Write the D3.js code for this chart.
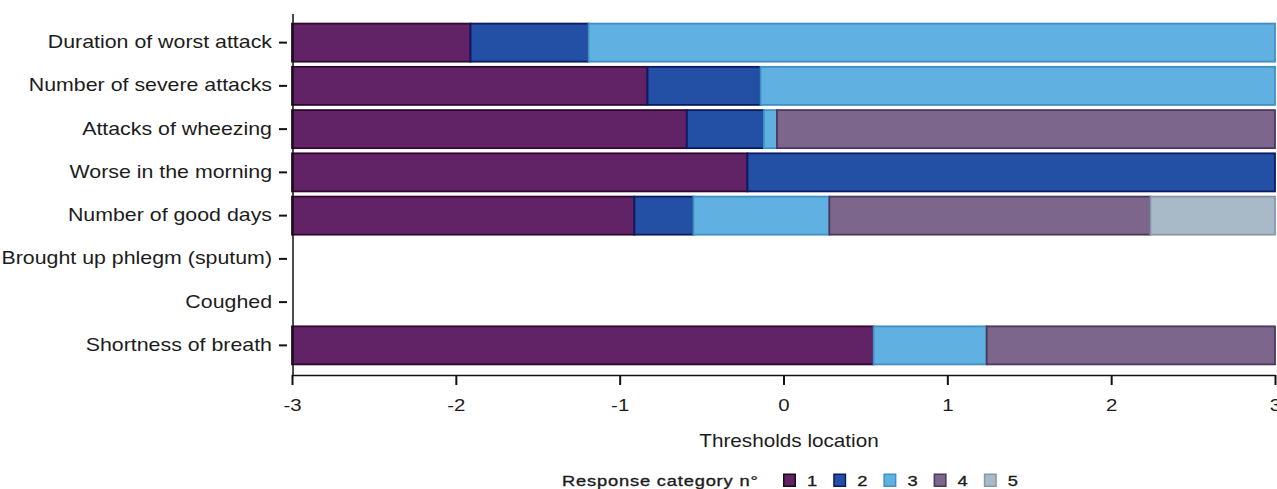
<!DOCTYPE html>
<html>
<head>
<meta charset="utf-8">
<script src="https://cdn.jsdelivr.net/npm/d3@7"></script>
<style>
  html, body { margin: 0; padding: 0; background: #fff; }
  svg { display: block; }
  text { font-family: "Liberation Sans", Arial, sans-serif; fill: #1c1c1c; }
</style>
</head>
<body>
<svg id="chart" width="1277" height="489"></svg>
<script>
// Items (top to bottom)
const items = [
  "Duration of worst attack",
  "Number of severe attacks",
  "Attacks of wheezing",
  "Worse in the morning",
  "Number of good days",
  "Brought up phlegm (sputum)",
  "Coughed",
  "Shortness of breath"
];

// Threshold locations per item (null = not estimated)
const thresholds = [
  [-1.91, -1.19],
  [-0.83, -0.14],
  [-0.59, -0.12, -0.04],
  [-0.22],
  [-0.91, -0.55, 0.28, 2.24],
  null,
  null,
  [0.55, 0.55, 1.24]
];

const categories = ["1", "2", "3", "4", "5"];
const xTicks = [-3, -2, -1, 0, 1, 2, 3];
const xDomain = [-3, 3];

const fills   = ["#622366", "#2350a4", "#60b1e2", "#7c668c", "#a8b9c8"];
const strokes = ["#32072f", "#0b1a62", "#3f8fc4", "#4c385d", "#8797a8"];

const svg = d3.select("#chart");

const x = d3.scaleLinear().domain(xDomain).range([292, 1275]);
const y = d3.scaleBand().domain(items).range([21, 367]).paddingInner(0.12).paddingOuter(0.06);

// Segments between consecutive thresholds, clipped to the axis domain
const segments = [];
items.forEach((item, i) => {
  const t = thresholds[i];
  if (!t) return;
  const bounds = [xDomain[0], ...t, xDomain[1]];
  for (let k = 0; k < bounds.length - 1; k++) {
    const a = Math.max(xDomain[0], bounds[k]);
    const b = Math.min(xDomain[1], bounds[k + 1]);
    if (b - a <= 0) continue;
    segments.push({ item, cat: k, x0: a, x1: b });
  }
});

svg.append("g")
  .selectAll("rect")
  .data(segments)
  .join("rect")
  .attr("x", d => x(d.x0))
  .attr("y", d => y(d.item))
  .attr("width", d => x(d.x1) - x(d.x0))
  .attr("height", y.bandwidth())
  .attr("fill", d => fills[d.cat])
  .attr("stroke", d => strokes[d.cat])
  .attr("stroke-width", 1.8);

// Y axis: separate ticks and a vertical line
const yAxis = svg.append("g")
  .attr("transform", "translate(287,0)")
  .call(d3.axisLeft(y).tickSize(8).tickSizeOuter(0).tickPadding(7));
yAxis.select(".domain").remove();
yAxis.selectAll(".tick line").attr("stroke", "#111").attr("stroke-width", 2);
yAxis.selectAll(".tick text")
  .attr("x", 0)
  .attr("transform", "translate(-15,0) scale(1.22,1)")
  .style("font-size", "17.5px")
  .attr("fill", "#1c1c1c");

svg.append("line")
  .attr("x1", 293).attr("x2", 293)
  .attr("y1", 14).attr("y2", 376)
  .attr("stroke", "#111").attr("stroke-width", 1.5);

// X axis
const xAxis = svg.append("g")
  .attr("transform", "translate(0,375)")
  .call(d3.axisBottom(x).tickValues(xTicks).tickFormat(d => String(d)).tickSize(10).tickSizeOuter(0).tickPadding(14));
xAxis.select(".domain").attr("stroke", "#111").attr("stroke-width", 1.5);
xAxis.selectAll(".tick line").attr("stroke", "#111").attr("stroke-width", 2);
xAxis.selectAll(".tick text")
  .attr("transform", "scale(1.2,1)")
  .style("font-size", "17px")
  .attr("fill", "#1c1c1c");

svg.append("text")
  .attr("transform", "translate(789,447) scale(1.15,1)")
  .attr("text-anchor", "middle")
  .style("font-size", "18px")
  .text("Thresholds location");

// Legend
const legend = svg.append("g");
legend.append("text")
  .attr("transform", "translate(562,486) scale(1.18,1)")
  .style("font-size", "15.5px")
  .style("letter-spacing", "0.7px")
  .attr("stroke", "#1c1c1c")
  .attr("stroke-width", 0.35)
  .text("Response category n°");

const lg = legend.selectAll("g.item")
  .data(categories)
  .join("g")
  .attr("class", "item")
  .attr("transform", (d, i) => `translate(${783 + i * 50.2},473.5)`);
lg.append("rect")
  .attr("x", 0.75).attr("y", 0.75)
  .attr("width", 11.5).attr("height", 12)
  .attr("fill", (d, i) => fills[i])
  .attr("stroke", (d, i) => i === 0 ? "#111" : strokes[i])
  .attr("stroke-width", 1.5);
lg.append("text")
  .attr("transform", "translate(24,12.5) scale(1.18,1)")
  .style("font-size", "15.5px")
  .attr("stroke", "#1c1c1c")
  .attr("stroke-width", 0.35)
  .text(d => d);
</script>
</body>
</html>
